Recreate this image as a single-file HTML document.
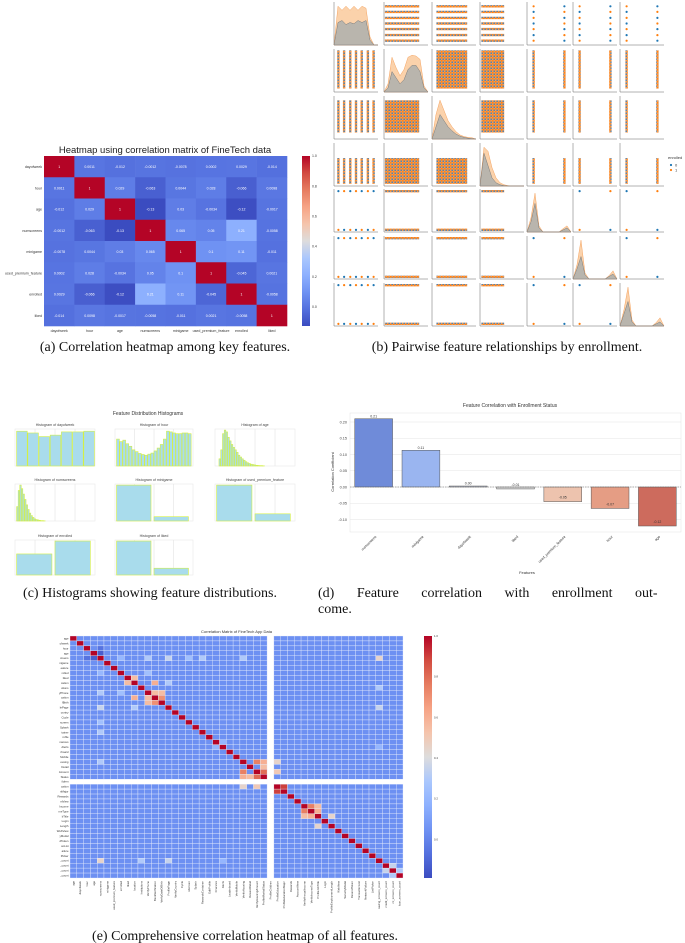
<!DOCTYPE html>
<html><head><meta charset="utf-8"><style>
html,body{margin:0;padding:0;background:#fff;}
svg{display:block;font-family:"Liberation Sans",sans-serif;}
.cap{font-family:"Liberation Serif",serif;font-size:14px;fill:#111;}
</style></head><body>
<svg id="fig" width="685" height="943" viewBox="0 0 685 943">
<defs>
<pattern id="pat" width="3" height="3" patternUnits="userSpaceOnUse">
<rect width="3" height="3" fill="#f49a50"/>
<circle cx="0.8" cy="0.8" r="0.8" fill="#ff7f0e"/><circle cx="2.2" cy="2.2" r="0.8" fill="#3f7fb8"/>
</pattern>
<linearGradient id="cwgrad" x1="0" y1="1" x2="0" y2="0">
<stop offset="0" stop-color="#3b4cc0"/><stop offset="0.1" stop-color="#5470de"/><stop offset="0.2" stop-color="#6f92f3"/><stop offset="0.3" stop-color="#8db0fe"/><stop offset="0.4" stop-color="#aac7fd"/><stop offset="0.5" stop-color="#dddcdc"/><stop offset="0.6" stop-color="#f5c4ac"/><stop offset="0.7" stop-color="#f6a385"/><stop offset="0.8" stop-color="#e67c60"/><stop offset="0.9" stop-color="#d24b40"/><stop offset="1" stop-color="#b40426"/>
</linearGradient>
</defs>
<text class="cap" x="165" y="351" text-anchor="middle">(a) Correlation heatmap among key features.</text>
<text class="cap" x="507" y="351" text-anchor="middle">(b) Pairwise feature relationships by enrollment.</text>
<text class="cap" x="150" y="597" text-anchor="middle">(c) Histograms showing feature distributions.</text>
<text class="cap" x="318" y="597" word-spacing="19">(d) Feature correlation with enrollment out-</text>
<text class="cap" x="318" y="613">come.</text>
<text class="cap" x="245" y="940" text-anchor="middle">(e) Comprehensive correlation heatmap of all features.</text>
</svg>
<script>
// ---------- data ----------
const smallFeatures = ['dayofweek','hour','age','numscreens','minigame','used_premium_feature','enrolled','liked'];
const smallCorr = [
 [1,0.0011,-0.012,-0.0012,-0.0078,0.0002,0.0029,-0.014],
 [0.0011,1,0.029,-0.063,0.0044,0.028,-0.066,0.0098],
 [-0.012,0.029,1,-0.13,0.03,-0.0034,-0.12,-0.0017],
 [-0.0012,-0.063,-0.13,1,0.065,0.05,0.21,-0.0058],
 [-0.0078,0.0044,0.03,0.065,1,0.1,0.11,-0.011],
 [0.0002,0.028,-0.0034,0.05,0.1,1,-0.045,0.0021],
 [0.0029,-0.066,-0.12,0.21,0.11,-0.045,1,-0.0058],
 [-0.014,0.0098,-0.0017,-0.0058,-0.011,0.0021,-0.0058,1]];
const smallCbTicks = [1.0,0.8,0.6,0.4,0.2,0.0];

const barFeatures = ['numscreens','minigame','dayofweek','liked','used_premium_feature','hour','age'];
const barValues = [0.21,0.113,0.003,-0.006,-0.045,-0.066,-0.12];
const barLabels = ['0.21','0.11','0.00','-0.01','-0.05','-0.07','-0.12'];
const barColors = ['#6f8bd9','#9ab5f0','#c7cfe3','#dcdcdc','#edc3ae','#e59d84','#cd6b5d'];
const barTicks = [0.20,0.15,0.10,0.05,0.00,-0.05,-0.10];

const histTitles = ['Histogram of dayofweek','Histogram of hour','Histogram of age','Histogram of numscreens','Histogram of minigame','Histogram of used_premium_feature','Histogram of enrolled','Histogram of liked'];
const histDay = [0.97,0.92,0.82,0.86,0.95,0.95,0.97];
const histHour = [0.75,0.68,0.72,0.62,0.55,0.45,0.4,0.35,0.32,0.3,0.33,0.36,0.42,0.5,0.6,0.75,0.97,0.95,0.92,0.9,0.9,0.92,0.92,0.9];
const histAge = [0.2,0.45,0.9,1.0,0.95,0.8,0.7,0.6,0.52,0.45,0.38,0.3,0.25,0.2,0.16,0.12,0.09,0.07,0.05,0.04,0.03,0.02,0.015,0.01,0.01,0.005];
const histNum = [0.4,0.85,1.0,0.9,0.75,0.6,0.45,0.32,0.22,0.15,0.1,0.06,0.04,0.03,0.02,0.01,0.01,0.005];
const histMini = [1,0.12];
const histPrem = [1,0.2];
const histEnr = [0.62,1];
const histLiked = [1,0.2];

const pairVars = ['dayofweek','hour','age','numscreens','minigame','used_premium_feature','liked'];
const kdeGray = [
 [0,0.55,0.6,0.5,0.55,0.52,0.6,0.55,0.6,0.12,0,0],
 [0,0.1,0.5,0.35,0.2,0.3,0.55,0.65,0.65,0.5,0.1,0],
 [0,0.3,0.6,0.45,0.3,0.2,0.12,0.07,0.04,0.02,0.01,0],
 [0,0.8,0.5,0.2,0.08,0.03,0.01,0,0,0,0,0],
 [0,0.25,0.7,0.1,0,0,0,0,0,0.05,0.1,0],
 [0,0.25,0.55,0.1,0,0,0,0,0,0.06,0.12,0],
 [0,0.3,0.6,0.1,0,0,0,0,0,0.05,0.1,0]];
const kdeOrange = [
 [0,0.95,0.85,0.95,0.85,0.95,0.85,0.95,0.9,0.2,0,0],
 [0,0.2,0.85,0.6,0.4,0.55,0.85,0.9,0.88,0.8,0.15,0],
 [0,0.6,0.95,0.7,0.45,0.3,0.18,0.1,0.06,0.04,0.03,0],
 [0,0.95,0.85,0.45,0.2,0.08,0.03,0.01,0,0,0,0],
 [0,0.35,0.95,0.15,0,0,0,0,0,0.08,0.15,0],
 [0,0.35,0.95,0.15,0,0,0,0,0,0.08,0.2,0],
 [0,0.4,0.95,0.15,0,0,0,0,0,0.08,0.2,0]];

const bigFeatures = ['age','dayofweek','hour','age','numscreens','minigame','used_premium_feature','enrolled','liked','location','Institutions','VerifyPhone','BankVerification','VerifyDateOfBirth','ProfilePage','VerifyCountry','Cycle','idscreen','Splash','RewardsContainer','EditProfile','Finances','Alerts','Leaderboard','VerifyMobile','VerifyHousing','RewardDetail','VerifyHousingAmount','ProfileMaritalStatus','ProfileChildren','ProfileEducation','ProfileEducationMajor','Rewards','AccountView','VerifyAnnualIncome','VerifyIncomeType','ProfileJobTitle','Login','ProfileEmploymentLength','WebView','SecurityModal','ResendToken','TransactionList','NetworkFailure','ListPicker','saving_screens_count','credit_screens_count','cc_screens_count','loan_screens_count'];
const bigBase = 0.04;
const bigPairs = [[4,7,0.21],[4,11,0.3],[4,14,0.35],[4,25,0.3],[4,45,0.45],[8,9,0.55],[9,12,0.6],[11,12,0.55],[12,13,0.7],[11,13,0.55],[9,14,0.3],[25,27,0.75],[25,28,0.6],[26,28,0.55],[27,28,0.8],[30,31,0.9],[34,35,0.75],[35,36,0.6],[34,36,0.55],[36,38,0.45],[46,47,0.35],[47,48,0.3],[3,4,-0.13],[2,4,-0.06],[4,17,0.25],[4,19,0.3],[7,11,0.25],[25,30,0.45],[27,30,0.5],[14,45,0.35],[10,45,0.3],[21,22,0.2],[22,45,0.2]];
const bigCbTicks = [1.0,0.8,0.6,0.4,0.2,0.0];

// ---------- helpers ----------
const NS='http://www.w3.org/2000/svg';
const svg=document.getElementById('fig');
function mk(tag,attrs,parent){const e=document.createElementNS(NS,tag);for(const k in attrs)e.setAttribute(k,attrs[k]);(parent||svg).appendChild(e);return e;}
const cwStops=['#3b4cc0','#5470de','#6f92f3','#8db0fe','#aac7fd','#dddcdc','#f5c4ac','#f6a385','#e67c60','#d24b40','#b40426'];
function hex(c){return [parseInt(c.slice(1,3),16),parseInt(c.slice(3,5),16),parseInt(c.slice(5,7),16)];}
function coolwarm(t){t=Math.max(0,Math.min(1,t));const p=t*10,i=Math.min(9,Math.floor(p)),f=p-i;const a=hex(cwStops[i]),b=hex(cwStops[i+1]);return 'rgb('+a.map((v,k)=>Math.round(v+(b[k]-v)*f)).join(',')+')';}

// ---------- (a) small heatmap ----------
(function(){
 const g=mk('g',{});
 
 
 const x0=44,x1=287,y0=156,y1=326,n=smallFeatures.length,cw=(x1-x0)/n,ch=(y1-y0)/n;
 const vmin=-0.127,vmax=1;
 const t=mk('text',{x:165,y:153,'text-anchor':'middle','font-size':9.5,fill:'#222'},g);t.textContent='Heatmap using correlation matrix of FineTech data';
 
 
 smallCorr.forEach((row,i)=>row.forEach((v,j)=>{
  const r=mk('rect',{x:x0+j*cw,y:y0+i*ch,width:cw+0.3,height:ch+0.3,fill:coolwarm((v-vmin)/(vmax-vmin))},g);
  
  
  const tx=mk('text',{x:x0+j*cw+cw/2,y:y0+i*ch+ch/2+1.5,'text-anchor':'middle','font-size':3.5,fill:'#fff'},g);tx.textContent=String(v);
  
  
 }));
 smallFeatures.forEach((f,i)=>{
  const a=mk('text',{x:x0-2,y:y0+i*ch+ch/2+1.5,'text-anchor':'end','font-size':3.6,fill:'#333'},g);a.textContent=f;
  
  
  const b=mk('text',{x:x0+i*cw+cw/2,y:y1+6,'text-anchor':'middle','font-size':3.6,fill:'#333'},g);b.textContent=f;
  
  
 });
 const cb=mk('rect',{x:302,y:y0,width:8,height:y1-y0,fill:'url(#cwgrad)'},g);
 
 
 smallCbTicks.forEach(v=>{
  const y=y1-(v-vmin)/(vmax-vmin)*(y1-y0);
  const tt=mk('text',{x:312,y:y+1.2,'font-size':3.5,fill:'#333'},g);tt.textContent=v.toFixed(1);
  
  
 });
})();

// ---------- (b) pairplot ----------
(function(){
 const g=mk('g',{});
 
 
 const cx=[334,384,432,480,527,573,620],cy=[2,49,96,143,189,236,283],W=44,H=43;
 const xr=[null,[0.02,0.8],[0.1,0.8],[0.03,0.55]],yr=[null,[0.03,0.92],[0.1,0.85],[0.35,0.95]];
 const disc=[0.1,0.23,0.37,0.5,0.63,0.77,0.9],bx=[0.15,0.85],by=[0.95,0.05];
 const isBin=k=>k>=4;
 function strip(x1,y1,x2,y2){const l=mk('line',{x1,y1,x2,y2,stroke:'url(#pat)','stroke-width':2.4},g);}
 function dot(x,y,c){const d=mk('circle',{cx:x,cy:y,r:1.1,fill:c},g);}
 for(let r=0;r<7;r++)for(let c=0;c<7;c++){
  const X=cx[c],Y=cy[r];
  const ax=mk('path',{d:`M${X} ${Y} V${Y+H} H${X+W}`,fill:'none',stroke:'#666','stroke-width':0.5},g);
  
  
  if(r===c){
   [kdeOrange[r],kdeGray[r]].forEach((arr,k)=>{
    let d=`M${X} ${Y+H}`;arr.forEach((v,i)=>{d+=` L${X+i/(arr.length-1)*W} ${Y+H-v*H*0.95}`;});d+=` L${X+W} ${Y+H} Z`;
    const p=mk('path',{d,fill:k?'#b9b5ad':'#fbd2ab',stroke:k?'#7a7a7a':'#f5a461','stroke-width':0.5},g);
    
    
   });
   continue;
  }
  const xs=c===0?disc:isBin(c)?bx:null, ys=r===0?disc.map(v=>1-v):isBin(r)?by:null;
  if(xs&&ys){xs.forEach((a,i)=>ys.forEach((b,j)=>dot(X+a*W,Y+b*H,(i+j)%2?'#1f77b4':'#ff7f0e')));}
  else if(xs){xs.forEach(a=>strip(X+a*W,Y+yr[r][0]*H,X+a*W,Y+yr[r][1]*H));}
  else if(ys){ys.forEach(b=>strip(X+xr[c][0]*W,Y+b*H,X+xr[c][1]*W,Y+b*H));}
  else{
   const rr=mk('rect',{x:X+xr[c][0]*W,y:Y+yr[r][0]*H,width:(xr[c][1]-xr[c][0])*W,height:(yr[r][1]-yr[r][0])*H,fill:'url(#pat)'},g);
   
   
  }
 }
 const lt=mk('text',{x:668,y:159,'font-size':4,fill:'#333'},g);lt.textContent='enrolled';
 
 
 [['0','#1f77b4'],['1','#ff7f0e']].forEach((e,i)=>{
  dot(671,165+i*5,e[1]);
  const tx=mk('text',{x:675,y:166.5+i*5,'font-size':4,fill:'#333'},g);tx.textContent=e[0];
  
  
 });
})();

// ---------- (c) histograms ----------
(function(){
 const g=mk('g',{});
 
 
 const t=mk('text',{x:148,y:415,'text-anchor':'middle','font-size':5,fill:'#333'},g);t.textContent='Feature Distribution Histograms';
 
 
 const cols=[[15,95],[115,193],[215,295]],rows=[[429,466],[484,521],[540,575]];
 const sets=[[histDay,0.02,1,0.35],[histHour,0.02,0.98,0.7],[histAge,0.05,0.62,0.8],[histNum,0.02,0.38,0.9],[histMini,0.02,0.98,0.45],[histPrem,0.02,0.98,0.45],[histEnr,0.02,0.98,0.45],[histLiked,0.02,0.98,0.45]];
 sets.forEach((s,k)=>{
  const [arr,a,b,gap]=s,col=cols[k%3],row=rows[Math.floor(k/3)];
  const X0=col[0],X1=col[1],Y0=row[0],Y1=row[1],w=X1-X0,h=Y1-Y0;
  const bg=mk('rect',{x:X0,y:Y0,width:w,height:h,fill:'#fff',stroke:'#e4e4e4','stroke-width':0.5},g);
  
  
  [0.25,0.5,0.75].forEach(f=>{const gl=mk('line',{x1:X0+f*w,y1:Y0,x2:X0+f*w,y2:Y1,stroke:'#dedede','stroke-width':0.5},g);});
  const tt=mk('text',{x:(X0+X1)/2,y:Y0-3,'text-anchor':'middle','font-size':3.6,fill:'#444'},g);tt.textContent=histTitles[k];
  
  
  const step=(b-a)*w/arr.length;
  arr.forEach((v,i)=>{
   const bh=v*h*0.97;
   const r=mk('rect',{x:X0+a*w+i*step,y:Y1-bh,width:arr.length<=2?step*0.92:step*(1-gap*0.15),height:bh,fill:'#a9dcec',stroke:'#d3ef45','stroke-width':0.6},g);
   
   
  });
 });
})();

// ---------- (d) bar chart ----------
(function(){
 const g=mk('g',{});
 
 
 const X0=350,X1=681,Y0=413,Y1=532,zeroY=487,scale=325;
 const yOf=v=>zeroY-v*scale;
 const bg=mk('rect',{x:X0,y:Y0,width:X1-X0,height:Y1-Y0,fill:'#fff',stroke:'#e6e6e6','stroke-width':0.6},g);
 
 
 const t=mk('text',{x:510,y:407,'text-anchor':'middle','font-size':5,fill:'#333'},g);t.textContent='Feature Correlation with Enrollment Status';
 
 
 barTicks.forEach(v=>{
  const y=yOf(v);
  const gl=mk('line',{x1:X0,y1:y,x2:X1,y2:y,stroke:'#e4e4e4','stroke-width':0.6},g);
  
  
  const tx=mk('text',{x:X0-3,y:y+1.3,'text-anchor':'end','font-size':3.8,fill:'#444'},g);tx.textContent=v.toFixed(2);
  
  
 });
 const yl=mk('text',{x:0,y:0,'text-anchor':'middle','font-size':4,fill:'#333',transform:`translate(334,472) rotate(-90)`},g);yl.textContent='Correlation Coefficient';
 
 
 const step=(X1-X0)/barValues.length,bw=step*0.8;
 barValues.forEach((v,i)=>{
  const x=X0+i*step+step*0.1,y=Math.min(yOf(v),zeroY),h=Math.max(Math.abs(yOf(v)-zeroY),0.8);
  const r=mk('rect',{x,y,width:bw,height:h,fill:barColors[i],stroke:'#555','stroke-width':0.5},g);
  
  
  const lv=mk('text',{x:x+bw/2,y:v>=0?yOf(v)-1.5:yOf(v)-3,'text-anchor':'middle','font-size':3.5,fill:'#333'},g);lv.textContent=barLabels[i];
  
  
  const xl=mk('text',{x:0,y:0,'text-anchor':'end','font-size':3.6,fill:'#333',transform:`translate(${x+bw/2+3},${Y1+5}) rotate(-45)`},g);xl.textContent=barFeatures[i];
  
  
 });
 const zl=mk('line',{x1:X0,y1:zeroY,x2:X1,y2:zeroY,stroke:'#666','stroke-width':0.5,'stroke-dasharray':'1.5 1'},g);
 
 
 const xt=mk('text',{x:527,y:574,'text-anchor':'middle','font-size':4,fill:'#333'},g);xt.textContent='Features';
 
 
})();

// ---------- (e) big heatmap ----------
(function(){
 const g=mk('g',{});
 
 
 const n=bigFeatures.length,X0=70,X1=403,Y0=636,Y1=878,cw=(X1-X0)/n,ch=(Y1-Y0)/n,vmin=-0.19,vmax=1;
 const M=[];for(let i=0;i<n;i++){M.push([]);for(let j=0;j<n;j++)M[i].push(i===j?1:bigBase);}
 bigPairs.forEach(p=>{M[p[0]][p[1]]=p[2];M[p[1]][p[0]]=p[2];});
 const gap=bigFeatures.indexOf('ProfileChildren');
 const t=mk('text',{x:(X0+X1)/2,y:633,'text-anchor':'middle','font-size':4,fill:'#333'},g);t.textContent='Correlation Matrix of FineTech App Data';
 
 
 for(let i=0;i<n;i++)for(let j=0;j<n;j++){
  if(i===gap||j===gap)continue;
  const r=mk('rect',{x:X0+j*cw,y:Y0+i*ch,width:cw,height:ch,fill:coolwarm((M[i][j]-vmin)/(vmax-vmin)),stroke:'#e8eefc','stroke-width':0.35},g);
  
  
 }
 bigFeatures.forEach((f,i)=>{
  const a=mk('text',{x:X0-1.5,y:Y0+i*ch+ch/2+1,'text-anchor':'end','font-size':2.8,fill:'#333'},g);a.textContent=f.length>7?f.slice(-6):f;
  
  
  const b=mk('text',{x:0,y:0,'text-anchor':'end','font-size':2.8,fill:'#333',transform:`translate(${X0+i*cw+cw/2+1},${Y1+3}) rotate(-90)`},g);b.textContent=f;
  
  
 });
 const cb=mk('rect',{x:424,y:Y0,width:8,height:Y1-Y0,fill:'url(#cwgrad)'},g);
 
 
 bigCbTicks.forEach(v=>{
  const y=Y1-(v-vmin)/(vmax-vmin)*(Y1-Y0);
  const tt=mk('text',{x:434,y:y+1,'font-size':2.8,fill:'#333'},g);tt.textContent=v.toFixed(1);
  
  
 });
})();
</script>
</body></html>
